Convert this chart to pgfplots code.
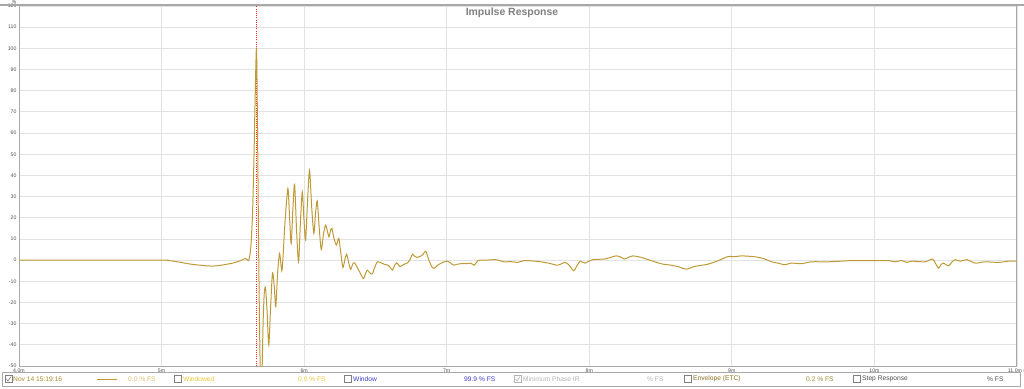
\documentclass[border=0pt]{standalone}
\usepackage{pgfplots}
\pgfplotsset{compat=1.18}
\usepackage{fontspec}
\setmainfont{Liberation Sans}
\definecolor{curvecol}{HTML}{BE9A36}
\definecolor{gridcol}{HTML}{E2E2E2}
\definecolor{axcol}{HTML}{A8A8A8}
\definecolor{ticktxt}{HTML}{505050}
\definecolor{olivetxt}{HTML}{A88A2A}
\definecolor{lightval}{HTML}{D6BE6A}
\definecolor{windowed}{HTML}{F0C43C}
\definecolor{bluetxt}{HTML}{3C3CC8}
\definecolor{graytxt}{HTML}{B4B4B4}
\definecolor{envtxt}{HTML}{8A7020}
\definecolor{envval}{HTML}{A08A30}
\definecolor{steptxt}{HTML}{505050}
\begin{document}
\begin{tikzpicture}[x=1bp,y=1bp]
\begin{axis}[
  at={(0,0)}, anchor=south west,
  scale only axis, width=998bp, height=360bp,
  xmin=4, xmax=11, ymin=-50, ymax=120,
  xtick={4,5,6,7,8,9,10,11},
  xticklabels={4.0m,5m,6m,7m,8m,9m,10m,11.0m s},
  ytick={-50,-40,-30,-20,-10,0,10,20,30,40,50,60,70,80,90,100,110,120},
  yticklabels={-50,-40,-30,-20,-10,0,10,20,30,40,50,60,70,80,90,100,110,120},
  grid=major, major grid style={gridcol, line width=0.8bp},
  major tick length=0pt,
  axis line style={axcol, line width=1bp},
  tick label style={font=\fontsize{5.2}{5.2}\selectfont, text=ticktxt},
  xticklabel style={yshift=1bp},
  yticklabel style={xshift=1bp},
]
\addplot[red!85, dash pattern=on 1bp off 1.2bp, line width=0.5bp] coordinates {(5.666,-50) (5.666,120)};
\addplot[curvecol, line width=1bp, smooth, tension=0.45] coordinates {
(4.000,0) (4.500,0) (5.000,0) (5.040,-0.1) (5.084,-0.5) (5.130,-1.0) (5.178,-1.6)
(5.225,-2.1) (5.272,-2.4) (5.320,-2.7) (5.365,-2.8) (5.400,-2.6) (5.436,-2.2)
(5.470,-1.8) (5.506,-1.3) (5.530,-0.8) (5.553,-0.3) (5.575,0.4) (5.588,0.8)
(5.600,0.3) (5.611,-0.3) (5.620,2.5) (5.628,8) (5.638,22) (5.647,45) (5.656,75)
(5.666,100) (5.674,55) (5.681,5) (5.688,-35) (5.696,-62) (5.704,-55) (5.712,-30)
(5.720,-16) (5.729,-13) (5.740,-24) (5.752,-40) (5.765,-22) (5.778,-6) (5.790,-12)
(5.801,-22) (5.814,-6) (5.827,3.2) (5.836,-1) (5.846,-4.4) (5.866,18) (5.886,33.8)
(5.898,20) (5.909,7.9) (5.921,24) (5.933,35.9) (5.947,14) (5.961,-0.8) (5.974,18)
(5.987,32.3) (5.998,20) (6.010,9.4) (6.024,28) (6.038,42.5) (6.053,25) (6.068,12.6)
(6.080,22) (6.092,28) (6.106,15) (6.120,5) (6.135,12) (6.150,16.5) (6.162,14)
(6.174,11) (6.185,14) (6.195,15) (6.210,10) (6.226,7.1) (6.235,9) (6.244,10.2)
(6.258,3) (6.272,-3.5) (6.285,0) (6.298,2.8) (6.312,-1) (6.326,-4.4) (6.340,-2)
(6.354,-1.3) (6.385,-5) (6.415,-8.7) (6.430,-6.5) (6.443,-4.7) (6.460,-6)
(6.478,-6.5) (6.495,-3.5) (6.514,-0.8) (6.540,-1.3) (6.565,-2.0) (6.589,-2.4)
(6.605,-3.5) (6.619,-4.7) (6.635,-2.5) (6.649,-1.3) (6.660,-2.0) (6.673,-3.1)
(6.700,-2.0) (6.725,-1.3) (6.745,0.5) (6.760,2.8) (6.775,1.8) (6.790,1.3)
(6.818,1.9) (6.835,2.8) (6.853,4.2) (6.875,0) (6.895,-3.0) (6.912,-3.9)
(6.935,-2.5) (6.959,-1.5) (6.982,-0.8) (7.006,-0.5) (7.025,-1.2) (7.048,-2.4)
(7.075,-1.9) (7.099,-1.7) (7.146,-1.7) (7.170,-1.4) (7.193,-2.4) (7.221,-0.2)
(7.280,0) (7.345,0.2) (7.403,-0.8) (7.450,-0.7) (7.497,-1.1) (7.544,-0.2)
(7.600,-0.4) (7.661,-0.8) (7.720,-1.5) (7.778,-2.4) (7.830,-1.1) (7.860,-2.5)
(7.891,-5.0) (7.915,-2.5) (7.938,-0.5) (7.970,-1.4) (8.024,0.2) (8.106,0.5)
(8.150,1.3) (8.188,2.0) (8.220,1.5) (8.247,0.5) (8.280,1.5) (8.306,2.0)
(8.364,1.3) (8.410,0.3) (8.458,-0.8) (8.517,-1.9) (8.575,-2.4) (8.630,-3.2)
(8.680,-4.3) (8.739,-3.0) (8.833,-1.9) (8.903,-0.3) (8.973,1.7) (9.020,1.6)
(9.067,2.0) (9.160,1.6) (9.219,0.8) (9.278,-0.8) (9.330,-1.5) (9.371,-2.2)
(9.418,-1.4) (9.488,-1.7) (9.559,-0.8) (9.676,-0.8) (9.817,-0.3) (9.910,-0.2)
(10.004,-0.3) (10.098,-0.2) (10.144,-0.8) (10.191,-0.2) (10.227,-1.1)
(10.262,-0.5) (10.355,-0.8) (10.407,0.5) (10.428,-1.5) (10.450,-3.8)
(10.468,-2.0) (10.485,-1.4) (10.500,-2.0) (10.520,-2.7) (10.545,-0.8)
(10.567,0.2) (10.602,-0.5) (10.648,0.2) (10.707,-1.4) (10.777,-0.8)
(10.871,-1.1) (10.941,-0.5) (11.000,-0.5)
};
\end{axis}
% top border
\draw[axcol, line width=1.6bp] (-19,361) -- (1005,361);
% title and unit
\node[font=\fontsize{10.5}{11}\selectfont\bfseries, text=gray] at (493,353) {Impulse Response};
\node[font=\fontsize{5}{5}\selectfont, text=ticktxt] at (-5,364) {\%};
% legend bar
\draw[axcol, line width=0.8bp] (-17,-6) rectangle (1001,-20);
\tikzset{lt/.style={anchor=west, inner sep=0pt, font=\fontsize{6.7}{7}\selectfont}}
\def\cb#1#2{\draw[#2, line width=0.5bp] (#1,-16.5) rectangle ++(7,7);}
\cb{-14}{gray}
\draw[gray, line width=0.6bp] (-12.5,-13) -- (-11,-15) -- (-8,-10.5);
\node[lt, text=olivetxt] at (-6,-13) {Nov 14 15:19:16};
\draw[curvecol, line width=1bp] (78,-13) -- (98,-13);
\node[lt, text=lightval] at (109,-13) {0.0 \% FS};
\cb{155}{gray}
\node[lt, text=windowed] at (164,-13) {Windowed};
\node[lt, text=windowed] at (279,-13) {0.0 \% FS};
\cb{325}{gray}
\node[lt, text=bluetxt] at (334,-13) {Window};
\node[lt, text=bluetxt] at (445,-13) {99.9 \% FS};
\cb{495}{graytxt}
\draw[graytxt, line width=0.6bp] (496.5,-13) -- (498,-15) -- (501,-10.5);
\node[lt, text=graytxt] at (504,-13) {Minimum Phase IR};
\node[lt, text=graytxt] at (628,-13) {\% FS};
\cb{665}{gray}
\node[lt, text=envtxt] at (674,-13) {Envelope (ETC)};
\node[lt, text=envval] at (787,-13) {0.2 \% FS};
\cb{834}{gray}
\node[lt, text=steptxt] at (843,-13) {Step Response};
\node[lt, text=steptxt] at (968,-13) {\% FS};
\pgfresetboundingbox
\path[use as bounding box] (-19,-22) rectangle (1005,366);
\end{tikzpicture}
\end{document}
